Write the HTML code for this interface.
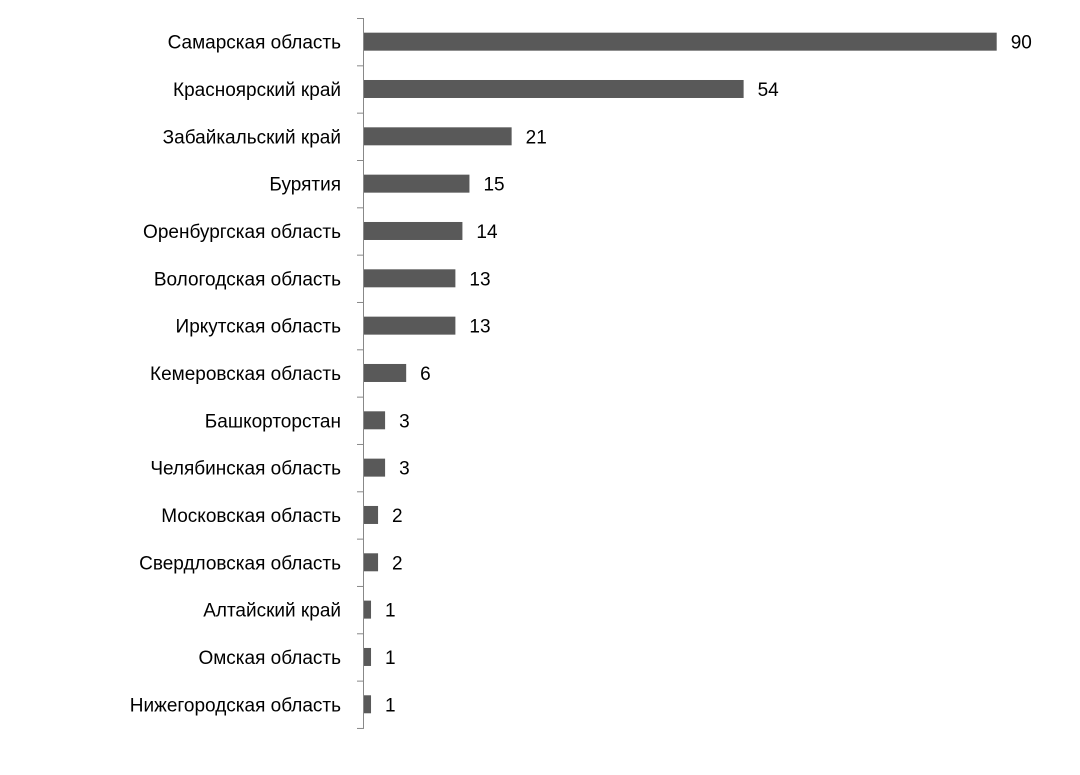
<!DOCTYPE html>
<html><head><meta charset="utf-8"><style>
body{margin:0;background:#fff;}
svg text{font-family:"Liberation Sans",sans-serif;font-size:19px;fill:#000;}
</style></head><body>
<svg id="chart" width="1080" height="770" xmlns="http://www.w3.org/2000/svg"></svg>
<script>
const categories=["Самарская область","Красноярский край","Забайкальский край","Бурятия","Оренбургская область","Вологодская область","Иркутская область","Кемеровская область","Башкорторстан","Челябинская область","Московская область","Свердловская область","Алтайский край","Омская область","Нижегородская область"];
const values=[90,54,21,15,14,13,13,6,3,3,2,2,1,1,1];
const NS="http://www.w3.org/2000/svg";
const chartSvg=document.getElementById('chart');
const x0=364,axisTop=18,band=47.33,pxPer=7.03,barH=18;
const xScale=v=>x0+v*pxPer;
const yBand=i=>axisTop+i*band;
function mk(t,a){const e=document.createElementNS(NS,t);for(const k in a)e.setAttribute(k,a[k]);chartSvg.appendChild(e);return e;}
const ax=mk('line',{x1:363.5,x2:363.5,y1:axisTop,y2:yBand(categories.length),stroke:'#888','stroke-width':1});


for(let i=0;i<=categories.length;i++){
  const t=mk('line',{x1:357,x2:364,y1:yBand(i)+0.5,y2:yBand(i)+0.5,stroke:'#888','stroke-width':1});
  
  
}
categories.forEach((c,i)=>{
  const cy=yBand(i)+band/2;
  const l=mk('text',{x:341,y:cy+7,'text-anchor':'end'});l.textContent=c;
  
  
  const b=mk('rect',{x:x0,y:cy-barH/2,width:xScale(values[i])-x0,height:barH,fill:'#595959'});
  
  
  const v=mk('text',{x:xScale(values[i])+14,y:cy+7});v.textContent=values[i];
  
  
});
</script>
</body></html>
